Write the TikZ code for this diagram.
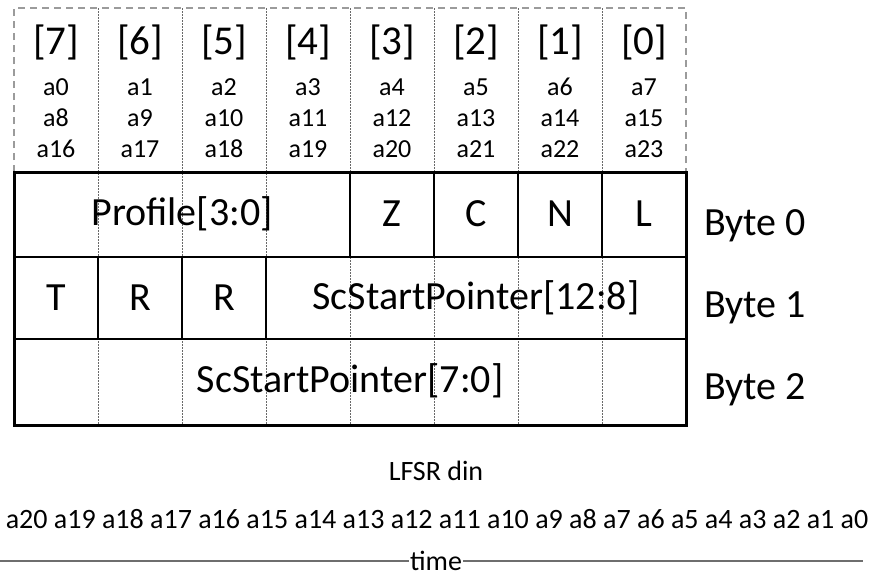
\documentclass[tikz,border=0pt]{standalone}
\usepackage{fontspec}
\setmainfont{Carlito}
\usetikzlibrary{positioning}
\definecolor{rulegray}{RGB}{105,105,105}
\definecolor{dashgray}{RGB}{155,155,155}
\definecolor{timegray}{RGB}{110,110,110}
\tikzset{
  bitidx/.style={font=\fontsize{41}{48}\selectfont,inner sep=0pt},
  lfsrin/.style={font=\fontsize{26}{31}\selectfont,align=center,inner sep=0pt},
  field/.style={font=\fontsize{40}{46}\selectfont,inner sep=0pt},
  bytetag/.style={font=\fontsize{40}{46}\selectfont,anchor=west,inner sep=0pt},
  seq/.style={font=\fontsize{28}{33}\selectfont,inner sep=0pt},
  bitline/.style={draw=rulegray,line width=0.9pt,dash pattern=on 2pt off 1pt},
  hdrframe/.style={draw=dashgray,line width=1.6pt,dash pattern=on 7pt off 5pt},
  cellrule/.style={draw=black,line width=1.6pt},
  frame/.style={draw=black,line width=3pt,line join=miter},
  timeline/.style={draw=timegray,line width=1.5pt},
}

\begin{document}
\begin{tikzpicture}[x=1pt,y=-1pt]
  \useasboundingbox (0,0) rectangle (871,576);
  % column edges: header top, table top, row rules, table bottom
  \foreach \i in {0,...,8}{
    \coordinate (t\i) at (14+84*\i,8);
    \coordinate (r\i) at (14+84*\i,172);
    \coordinate (u\i) at (14+84*\i,257);
    \coordinate (v\i) at (14+84*\i,339);
    \coordinate (b\i) at (14+84*\i,425);
  }
  \draw[hdrframe] (r0) -- (t0) -- (t8) -- (r8);
  \foreach \i in {1,...,7} \draw[bitline] (t\i) -- (b\i);
  % bit index and LFSR inputs per column
  \foreach \i [evaluate=\i as \b using int(7-\i),
               evaluate=\i as \m using int(\i+8),
               evaluate=\i as \h using int(\i+16)] in {0,...,7}{
    \node[bitidx] (idx\i) at (56+84*\i,42) {[\b]};
    \node[lfsrin] (in\i) at (56+84*\i,118) {a\i\\a\m\\a\h};
  }
  % byte rows
  \draw[cellrule] (u0) -- (u8) (v0) -- (v8);
  \foreach \i in {4,5,6,7} \draw[cellrule] (r\i) -- (u\i);
  \foreach \i in {1,2,3} \draw[cellrule] (u\i) -- (v\i);
  \draw[frame] (r0) rectangle (b8);
  \node[field] (prof) at (182,214) {Profile[3:0]};
  \foreach \t [count=\i from 4] in {Z,C,N,L}
    \node[field] (f\t) at (56+84*\i,214) {\t};
  \foreach \t [count=\i from 0] in {T,R,R}
    \node[field] (g\i) at (56+84*\i,298) {\t};
  \node[field] (ptrhi) at (476,298) {ScStartPointer[12:8]};
  \node[field] (ptrlo) at (350,381) {ScStartPointer[7:0]};
  \foreach \y [count=\i from 0] in {226,308,390}
    \node[bytetag] (byte\i) at (704,\y) {Byte \i};
  % serial order into the LFSR
  \node[seq] (din) at (436,471) {LFSR din};
  \node[seq] (order) at (437,519) {a20 a19 a18 a17 a16 a15 a14 a13 a12 a11 a10 a9 a8 a7 a6 a5 a4 a3 a2 a1 a0};
  \node[seq,inner xsep=1pt] (tm) at (436,561) {time};
  \coordinate (tl) at (0,561);
  \coordinate (tr) at (863,561);
  \draw[timeline] (tl) -- (tm.west) (tm.east) -- (tr);
\end{tikzpicture}
\end{document}
